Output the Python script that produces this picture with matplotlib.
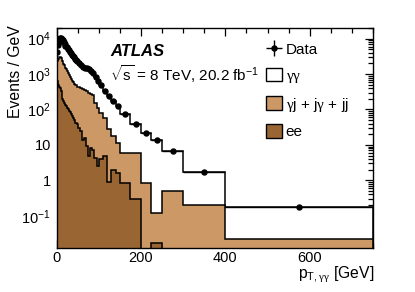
import numpy as np
import matplotlib
matplotlib.use('Agg')
import matplotlib.pyplot as plt
from matplotlib.patches import Patch
from matplotlib.ticker import FixedLocator, FixedFormatter, LogLocator, NullFormatter, MultipleLocator

plt.rcParams['font.family'] = ['Liberation Sans', 'DejaVu Sans']
plt.rcParams['mathtext.fontset'] = 'custom'
plt.rcParams['mathtext.rm'] = 'Liberation Sans'
plt.rcParams['mathtext.it'] = 'Liberation Sans:italic'
plt.rcParams['mathtext.bf'] = 'Liberation Sans:bold'
plt.rcParams['mathtext.sf'] = 'Liberation Serif'

# ---- data (events / GeV) ----
bin_edges = [0, 2, 4, 6, 8, 10, 12, 14, 16, 18, 20, 22.5, 25, 27.5, 30, 32.5, 35, 37.5,
             40, 42.5, 45, 47.5, 50, 55, 60, 65, 70, 75, 80, 85, 90, 95, 100, 110, 120,
             130, 140, 150, 175, 200, 225, 250, 300, 400, 750]

data_values = [4150, 6700, 8300, 9900, 10300, 10300, 9700, 8900, 8000, 7300, 6400, 5760,
               5170, 4640, 4260, 3820, 3500, 3220, 2950, 2700, 2480, 2270, 2000, 1760,
               1610, 1510, 1440, 1350, 1240, 1045, 840, 650, 480, 340, 234, 178, 123,
               76, 40, 21, 14, 6.6, 1.74, 0.18]

gg_yield = [2350, 4400, 5700, 6950, 7350, 7400, 7100, 6600, 6100, 5550, 4900, 4410,
            3970, 3590, 3310, 3000, 2760, 2570, 2370, 2170, 2000, 1830, 1580, 1360,
            1230, 1150, 1110, 1050, 960, 785, 690, 540, 401, 283, 206, 160, 112,
            70, 34, 20.15, 13.88, 6.1, 1.54, 0.1575]

jet_yield = [1350, 1680, 2100, 2505, 2550, 2575, 2360, 2100, 1730, 1595, 1365, 1225,
             1088, 945, 857, 735, 665, 585, 523, 480, 438, 402, 390, 376,
             366, 344.4, 320.9, 295.2, 271.6, 253, 145.7, 107.5, 75.1, 52.2, 27.13, 16.1, 9.4,
             5.17, 5.71, 0.85, 0.1026, 0.5, 0.2, 0.0225]

ee_yield = [450, 620, 500, 445, 400, 325, 240, 200, 170, 155, 135, 125,
            112, 105, 93, 85, 75, 65, 57, 50, 42, 38, 30, 24,
            14, 15.6, 9.1, 4.8, 8.4, 7, 4.3, 2.5, 3.9, 4.8, 0.87, 1.9, 1.6,
            0.83, 0.29, 0, 0.0174, 0, 0, 0]

x_ticks = [0, 200, 400, 600]
y_ticks = [0.1, 1, 10, 100, 1000, 10000]
y_tick_labels = [r'$10^{-1}$', '1', '10', r'$10^{2}$', r'$10^{3}$', r'$10^{4}$']
legend_labels = ['Data', r'$\mathsf{\gamma\gamma}$',
                 r'$\mathsf{\gamma}$j + j$\mathsf{\gamma}$ + jj', 'ee']

col_jet = '#cc9966'
col_ee = '#996633'

fig = plt.figure(figsize=(4.15, 2.92), dpi=100)
ax = fig.add_axes([56.5 / 415, 1 - 247.7 / 292, (373 - 56.5) / 415, (247.7 - 28) / 292])
ax.set_yscale('log')

edges = np.array(bin_edges)
ee = np.array(ee_yield)
jets = np.array(jet_yield)
gg = np.array(gg_yield)
lvl_ee = ee
lvl_fake = ee + jets
lvl_tot = ee + jets + gg
base = 1e-5
lw = 1.1
ax.stairs(lvl_tot, edges, baseline=base, fill=True, facecolor='white', edgecolor='black', lw=lw, zorder=2)
ax.stairs(lvl_fake, edges, baseline=base, fill=True, facecolor=col_jet, edgecolor='black', lw=lw, zorder=3)
ax.stairs(lvl_ee, edges, baseline=base, fill=True, facecolor=col_ee, edgecolor='black', lw=lw, zorder=4)

centers = 0.5 * (edges[1:] + edges[:-1])
halfw = 0.5 * (edges[1:] - edges[:-1])
eb = ax.errorbar(centers, data_values, xerr=halfw, yerr=np.zeros(len(centers)), fmt='o',
                 color='black', ms=3.6, lw=1.0, capsize=0, zorder=6)

ax.set_xlim(0, 750)
ax.set_ylim(0.0125, 2e4)
ax.xaxis.set_major_locator(FixedLocator(x_ticks))
ax.xaxis.set_minor_locator(MultipleLocator(50))
ax.yaxis.set_major_locator(FixedLocator(y_ticks))
ax.yaxis.set_major_formatter(FixedFormatter(y_tick_labels))
ax.yaxis.set_minor_locator(LogLocator(base=10, subs=np.arange(2, 10), numticks=20))
ax.yaxis.set_minor_formatter(NullFormatter())
ax.tick_params(which='both', direction='in', top=True, right=True, labelsize=10.5, width=0.9)
ax.tick_params(which='major', length=6)
ax.tick_params(which='minor', length=3.5)
ax.tick_params(axis='x', pad=2.5)
ax.tick_params(axis='y', pad=4)
for s in ax.spines.values():
    s.set_linewidth(1.0)
    s.set_zorder(10)

fig.text(16 / 415, 1 - 25 / 292, 'Events / GeV', rotation=90, ha='center', va='top', fontsize=11.3)
fig.text(374 / 415, 1 - 277.5 / 292, r'$\mathregular{p_{T,\mathsf{\gamma\gamma}}}$ [GeV]', ha='right',
         va='baseline', fontsize=11.3)

fig.text(110 / 415, 1 - 56.3 / 292, 'ATLAS', fontsize=12, fontweight='bold', fontstyle='italic',
         ha='left', va='baseline')
fig.text(110 / 415, 1 - 81 / 292, r'$\sqrt{\mathregular{s}}$ = 8 TeV, 20.2 fb$^{-1}$', fontsize=11,
         ha='left', va='baseline')

handles = [eb,
           Patch(facecolor='white', edgecolor='black', lw=1.0),
           Patch(facecolor=col_jet, edgecolor='black', lw=1.0),
           Patch(facecolor=col_ee, edgecolor='black', lw=1.0)]
ax.legend(handles, legend_labels, loc='upper left', bbox_to_anchor=(266 / 415, 1 - 42 / 292),
          bbox_transform=fig.transFigure, frameon=False, fontsize=11, handlelength=1.05,
          handleheight=1.0, handletextpad=0.25, labelspacing=0.7, borderpad=0, borderaxespad=0)

fig.savefig('out.png', dpi=100)
